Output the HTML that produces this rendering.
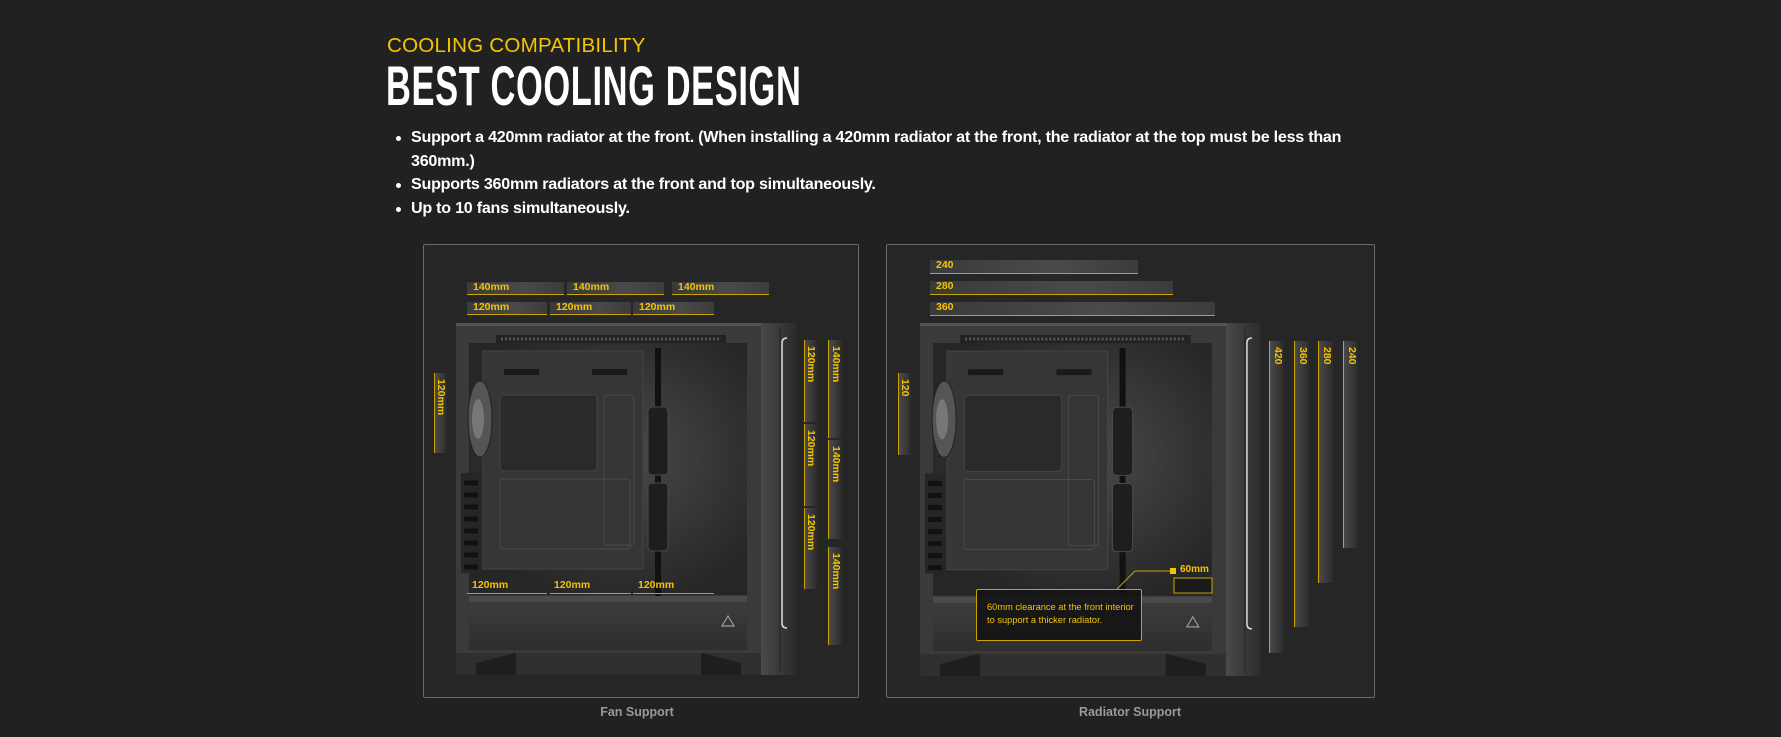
<!DOCTYPE html>
<html><head><meta charset="utf-8">
<style>
*{margin:0;padding:0;box-sizing:border-box}
body{width:1781px;height:737px;background:#212121;position:relative;overflow:hidden;font-family:"Liberation Sans",sans-serif}
.abs{position:absolute}
.sub{left:387px;top:34px;color:#f5c400;font-size:20.6px;letter-spacing:0.2px}
.title{left:386px;top:58px;color:#fff;font-size:56px;font-weight:bold;transform:scaleX(0.615);transform-origin:left top;letter-spacing:1px;line-height:56px}
ul{position:absolute;left:396px;top:126px;list-style:none;color:#fff;font-size:16.1px;font-weight:bold;line-height:23.5px;letter-spacing:-0.25px}
ul li{padding-left:15px;position:relative}
ul li:before{content:"";position:absolute;left:0;top:10px;width:5px;height:5px;border-radius:50%;background:#fff}
.panel{border:1px solid #6a6a6a;border-radius:2px;background:#262626}
.cap{color:#9a9a9a;font-size:12.5px;font-weight:bold;text-align:center;width:300px}
.hb{background:linear-gradient(to right,#3a3a3a,#4a4a4a 60%,#3c3c3c);border-bottom:1px solid #c9a400;color:#f5c400;font-size:10.5px;font-weight:bold;padding-left:6px;line-height:11px}
.vb{background:linear-gradient(to right,#4a4a4a,#353535 70%,#2a2a2a);border-left:1px solid #c9a400;color:#f5c400;font-size:10.5px;font-weight:bold;writing-mode:vertical-rl;padding-top:6px;line-height:13px}
.bl{color:#f5c400;font-size:10.5px;font-weight:bold}
</style></head><body>
<div class="abs sub">COOLING COMPATIBILITY</div>
<div class="abs title">BEST COOLING DESIGN</div>
<ul>
<li>Support a 420mm radiator at the front. (When installing a 420mm radiator at the front, the radiator at the top must be less than<br>360mm.)</li>
<li>Supports 360mm radiators at the front and top simultaneously.</li>
<li>Up to 10 fans simultaneously.</li>
</ul>

<div class="abs panel" style="left:423px;top:244px;width:436px;height:454px"></div>
<div class="abs panel" style="left:886px;top:244px;width:489px;height:454px"></div>
<div class="abs cap" style="left:487px;top:705px">Fan Support</div>
<div class="abs cap" style="left:980px;top:705px">Radiator Support</div>

<svg class="abs" style="left:456px;top:323px" width="340" height="353" viewBox="0 0 340 353">
<defs>
<radialGradient id="ig" cx="0.55" cy="0.45" r="0.6"><stop offset="0" stop-color="#4a4a4a"/><stop offset="1" stop-color="#262626"/></radialGradient>
<linearGradient id="fp" x1="0" x2="1"><stop offset="0" stop-color="#4a4a4a"/><stop offset="0.5" stop-color="#3a3a3a"/><stop offset="1" stop-color="#2c2c2c"/></linearGradient>
<linearGradient id="sh" x1="0" y1="0" x2="0" y2="1"><stop offset="0" stop-color="#3c3c3c"/><stop offset="1" stop-color="#2e2e2e"/></linearGradient>
</defs>
<rect x="0" y="0" width="305" height="330" fill="#3a3a3a"/>
<rect x="0" y="330" width="305" height="22" fill="#2f2f2f"/>
<path d="M20 340 L60 330 L60 352 L20 352Z M245 330 L285 340 L285 352 L245 352Z" fill="#1e1e1e"/>
<rect x="305" y="0" width="35" height="352" fill="url(#fp)"/>
<line x1="324" y1="5" x2="324" y2="348" stroke="#222" stroke-width="1"/>
<path d="M331 15 Q326 15 326 20 L326 300 Q326 305 331 305" stroke="#ddd" stroke-width="1.5" fill="none"/>
<rect x="13" y="20" width="278" height="252" fill="url(#ig)"/>
<rect x="40" y="12" width="230" height="8" fill="#222"/>
<path d="M45 16 H265" stroke="#555" stroke-dasharray="2 2" stroke-width="3"/>
<rect x="27" y="28" width="160" height="218" fill="#363636" stroke="#444"/>
<rect x="44" y="72" width="97" height="76" rx="4" fill="#2a2a2a" stroke="#444"/>
<rect x="148" y="72" width="30" height="150" rx="3" fill="none" stroke="#4a4a4a"/>
<rect x="44" y="156" width="130" height="70" rx="3" fill="none" stroke="#4a4a4a"/>
<rect x="48" y="46" width="35" height="6" fill="#1a1a1a"/><rect x="136" y="46" width="35" height="6" fill="#1a1a1a"/>
<rect x="199" y="25" width="6" height="248" fill="#111"/>
<rect x="192" y="84" width="20" height="68" rx="4" fill="#1e1e1e" stroke="#4a4a4a"/>
<rect x="192" y="160" width="20" height="68" rx="4" fill="#1e1e1e" stroke="#4a4a4a"/>
<ellipse cx="24" cy="96" rx="12" ry="38" fill="#555" stroke="#222"/>
<ellipse cx="22" cy="96" rx="6" ry="20" fill="#777"/>
<rect x="5" y="150" width="20" height="100" fill="#262626"/>
<path d="M8 160 h14 M8 172 h14 M8 184 h14 M8 196 h14 M8 208 h14 M8 220 h14 M8 232 h14 M8 244 h14" stroke="#111" stroke-width="5"/>
<rect x="13" y="273" width="278" height="6" fill="#4a4a4a"/>
<rect x="13" y="279" width="278" height="48" fill="url(#sh)"/>
<path d="M272 293 L278 303 L266 303 Z" fill="none" stroke="#999" stroke-width="1.2"/>
<rect x="0" y="0" width="305" height="3" fill="#555"/>
</svg>

<svg class="abs" style="left:920px;top:323px" width="341" height="354" viewBox="0 0 340 353">
<rect x="0" y="0" width="305" height="330" fill="#3a3a3a"/>
<rect x="0" y="330" width="305" height="22" fill="#2f2f2f"/>
<path d="M20 340 L60 330 L60 352 L20 352Z M245 330 L285 340 L285 352 L245 352Z" fill="#1e1e1e"/>
<rect x="305" y="0" width="35" height="352" fill="url(#fp)"/>
<line x1="324" y1="5" x2="324" y2="348" stroke="#222" stroke-width="1"/>
<path d="M331 15 Q326 15 326 20 L326 300 Q326 305 331 305" stroke="#ddd" stroke-width="1.5" fill="none"/>
<rect x="13" y="20" width="278" height="252" fill="url(#ig)"/>
<rect x="40" y="12" width="230" height="8" fill="#222"/>
<path d="M45 16 H265" stroke="#555" stroke-dasharray="2 2" stroke-width="3"/>
<rect x="27" y="28" width="160" height="218" fill="#363636" stroke="#444"/>
<rect x="44" y="72" width="97" height="76" rx="4" fill="#2a2a2a" stroke="#444"/>
<rect x="148" y="72" width="30" height="150" rx="3" fill="none" stroke="#4a4a4a"/>
<rect x="44" y="156" width="130" height="70" rx="3" fill="none" stroke="#4a4a4a"/>
<rect x="48" y="46" width="35" height="6" fill="#1a1a1a"/><rect x="136" y="46" width="35" height="6" fill="#1a1a1a"/>
<rect x="199" y="25" width="6" height="248" fill="#111"/>
<rect x="192" y="84" width="20" height="68" rx="4" fill="#1e1e1e" stroke="#4a4a4a"/>
<rect x="192" y="160" width="20" height="68" rx="4" fill="#1e1e1e" stroke="#4a4a4a"/>
<ellipse cx="24" cy="96" rx="12" ry="38" fill="#555" stroke="#222"/>
<ellipse cx="22" cy="96" rx="6" ry="20" fill="#777"/>
<rect x="5" y="150" width="20" height="100" fill="#262626"/>
<path d="M8 160 h14 M8 172 h14 M8 184 h14 M8 196 h14 M8 208 h14 M8 220 h14 M8 232 h14 M8 244 h14" stroke="#111" stroke-width="5"/>
<rect x="13" y="273" width="278" height="6" fill="#4a4a4a"/>
<rect x="13" y="279" width="278" height="48" fill="url(#sh)"/>
<path d="M272 293 L278 303 L266 303 Z" fill="none" stroke="#999" stroke-width="1.2"/>
<rect x="0" y="0" width="305" height="3" fill="#555"/>
<rect x="254" y="255" width="37" height="15" fill="#1a1a1a"/>
</svg>

<div class="abs hb" style="left:467px;top:282px;width:97px;height:13px">140mm</div>
<div class="abs hb" style="left:567px;top:282px;width:97px;height:13px">140mm</div>
<div class="abs hb" style="left:672px;top:282px;width:97px;height:13px">140mm</div>
<div class="abs hb" style="left:467px;top:302px;width:80px;height:13px">120mm</div>
<div class="abs hb" style="left:550px;top:302px;width:81px;height:13px">120mm</div>
<div class="abs hb" style="left:633px;top:302px;width:81px;height:13px">120mm</div>
<div class="abs vb" style="left:434px;top:373px;width:13px;height:80px">120mm</div>
<div class="abs vb" style="left:804px;top:340px;width:13px;height:82px">120mm</div>
<div class="abs vb" style="left:804px;top:424px;width:13px;height:82px">120mm</div>
<div class="abs vb" style="left:804px;top:508px;width:13px;height:81px">120mm</div>
<div class="abs vb" style="left:828px;top:340px;width:14px;height:98px">140mm</div>
<div class="abs vb" style="left:828px;top:440px;width:14px;height:99px">140mm</div>
<div class="abs vb" style="left:828px;top:547px;width:14px;height:98px">140mm</div>
<div class="abs bl" style="left:472px;top:579px">120mm</div>
<div class="abs bl" style="left:554px;top:579px">120mm</div>
<div class="abs bl" style="left:638px;top:579px">120mm</div>
<div class="abs" style="left:467px;top:593px;width:80px;height:1px;background:#c9a400"></div>
<div class="abs" style="left:550px;top:593px;width:81px;height:1px;background:#c9a400"></div>
<div class="abs" style="left:633px;top:593px;width:81px;height:1px;background:#c9a400"></div>

<div class="abs hb" style="left:930px;top:260px;width:208px;height:14px">240</div>
<div class="abs hb" style="left:930px;top:281px;width:243px;height:14px">280</div>
<div class="abs hb" style="left:930px;top:302px;width:285px;height:14px">360</div>
<div class="abs vb" style="left:898px;top:373px;width:13px;height:82px">120</div>
<div class="abs vb" style="left:1269px;top:341px;width:15px;height:312px">420</div>
<div class="abs vb" style="left:1294px;top:341px;width:15px;height:286px">360</div>
<div class="abs vb" style="left:1318px;top:341px;width:15px;height:242px">280</div>
<div class="abs vb" style="left:1343px;top:341px;width:15px;height:207px">240</div>

<svg class="abs" style="left:1100px;top:560px" width="120" height="40">
<polyline points="17,29 35,11 72,11" fill="none" stroke="#c9a400" stroke-width="1"/>
<rect x="70" y="8" width="6" height="6" fill="#f5c400"/>
<rect x="74" y="18" width="38" height="15" fill="none" stroke="#c9a400" stroke-width="1"/>
</svg>
<div class="abs bl" style="left:1180px;top:564px;font-size:10px">60mm</div>
<div class="abs" style="left:976px;top:589px;width:166px;height:52px;border:1px solid #c9a400;border-radius:2px;background:rgba(20,20,20,0.9);color:#f5c400;font-size:9.3px;line-height:12.5px;padding:11px 0 0 10px">60mm clearance at the front interior<br>to support a thicker radiator.</div>
</body></html>
